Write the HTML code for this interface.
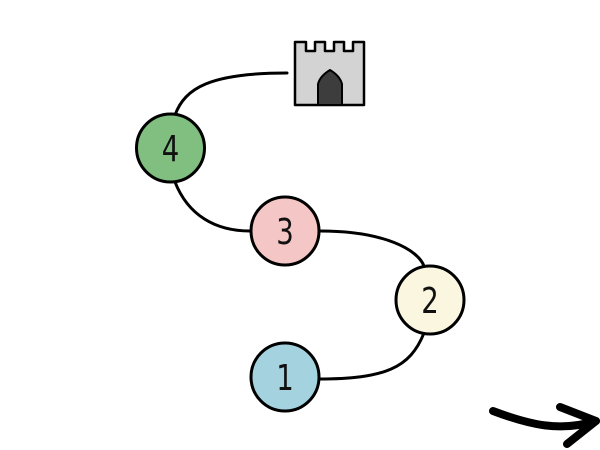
<!DOCTYPE html>
<html><head><meta charset="utf-8"><style>html,body{margin:0;padding:0;background:#fff}svg{display:block}</style></head>
<body>
<svg width="600" height="450" viewBox="0 0 600 450" xmlns="http://www.w3.org/2000/svg">
<g fill="none" stroke="#000" stroke-width="3" stroke-linecap="round">
<path d="M175 115 C185 88 210 73 287 73"/>
<path d="M175 182 C188 215 215 231 250 231"/>
<path d="M320 231 C385 231 418 250 424 266"/>
<path d="M424 333 C410 368 385 379 318 379"/>
</g>
<g stroke="#000" stroke-width="3">
<circle cx="170.5" cy="148" r="34" fill="#80bf80"/>
<circle cx="285" cy="231" r="34" fill="#f4c6c5"/>
<circle cx="430" cy="300" r="34" fill="#faf6e0"/>
<circle cx="285" cy="377" r="34" fill="#a5d2df"/>
</g>
<g font-family="DejaVu Sans Condensed, DejaVu Sans, sans-serif" font-weight="200" font-size="36" text-anchor="middle" fill="#111" transform="scale(0.85,1)">
<text x="200.6" y="161">4</text>
<text x="335.3" y="244">3</text>
<text x="505.9" y="313">2</text>
<text x="335.3" y="390">1</text>
</g>
<path d="M295 42 H306 V51 H315 V42 H325 V51 H334 V42 H344 V51 H353 V42 H364 V105 H295 Z" fill="#d3d3d3" stroke="#000" stroke-width="2.5" stroke-linejoin="round"/>
<path d="M318 105 V84 Q320 76 330 70 Q340 76 342 84 V105 Z" fill="#3d3d3d" stroke="#000" stroke-width="2"/>
<g fill="none" stroke="#000" stroke-width="8" stroke-linecap="round" stroke-linejoin="round">
<path d="M493 411 C530 425 560 432 596 421"/>
<path d="M560 407 L596 421 L567 444"/>
</g>
</svg>
</body></html>
